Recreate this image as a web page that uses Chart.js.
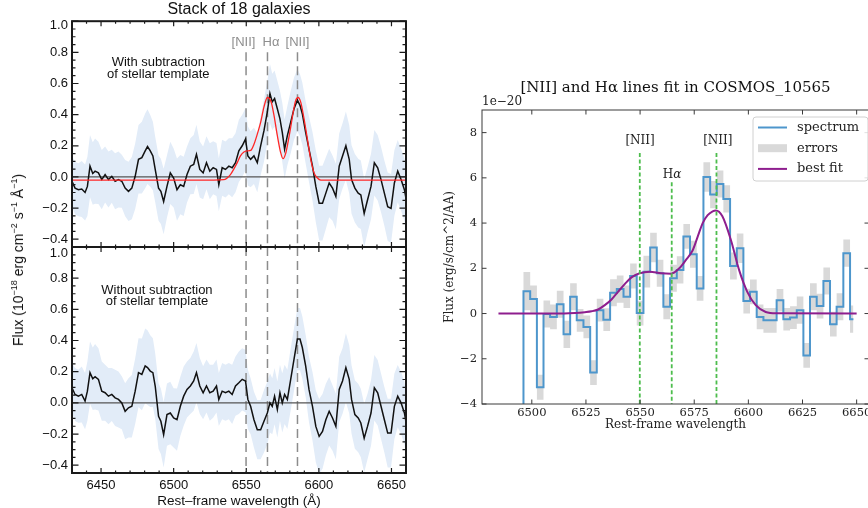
<!DOCTYPE html>
<html lang="en">
<head>
<meta charset="UTF-8">
<title>Stack of 18 galaxies and COSMOS_10565 line fit</title>
<style>
html, body { margin: 0; padding: 0; background: #fff; }
body { width: 868px; height: 508px; position: relative; overflow: hidden; }
canvas { position: absolute; }
#topLeft { left: 0; top: 0; }
#botLeft { left: 0; top: 247px; }
#right { left: 436px; top: 70px; }
#ylab {
  position: absolute; left: 18px; top: 260px;
  transform: translate(-50%, -50%) rotate(-90deg);
  white-space: nowrap; color: #111;
  font: 14px "Liberation Sans", Arial, sans-serif;
}
#ylab sup { font-size: 9px; line-height: 0; }
</style>
</head>
<body>
<canvas id="topLeft" width="420" height="247"></canvas>
<canvas id="botLeft" width="420" height="261"></canvas>
<canvas id="right" width="440" height="365"></canvas>
<div id="ylab">Flux (10<sup>&minus;18</sup> erg cm<sup>&minus;2</sup> s<sup>&minus;1</sup> &Aring;<sup>&minus;1</sup>)</div>

<script src="https://cdn.jsdelivr.net/npm/chart.js@4.4.0/dist/chart.umd.min.js"></script>
<script>
// ---------- left: stack of 18 galaxies ----------
var stackWave = [6430.0, 6432.1, 6434.4, 6436.7, 6439.0, 6440.6, 6442.4, 6444.3, 6445.9, 6448.2,
  6450.5, 6452.8, 6455.1, 6457.4, 6459.7, 6462.0, 6464.3, 6466.6, 6468.9, 6471.2,
  6473.5, 6475.8, 6478.1, 6480.4, 6482.0, 6483.9, 6485.7, 6487.3, 6489.6, 6491.2,
  6493.1, 6495.4, 6497.7, 6500.0, 6502.3, 6504.6, 6506.9, 6509.2, 6511.5, 6513.8,
  6515.7, 6518.0, 6520.3, 6522.6, 6524.9, 6527.2, 6529.5, 6531.1, 6533.4, 6535.7,
  6538.0, 6540.3, 6542.6, 6544.9, 6547.2, 6549.5, 6551.1, 6553.0, 6555.3, 6557.6,
  6559.9, 6562.2, 6564.5, 6566.3, 6567.9, 6569.5, 6571.4, 6573.2, 6574.8, 6576.4,
  6578.3, 6580.6, 6582.9, 6585.2, 6587.0, 6588.6, 6590.9, 6593.2, 6595.6, 6597.9,
  6600.2, 6602.5, 6604.8, 6607.1, 6609.4, 6611.7, 6614.0, 6616.3, 6618.6, 6620.9,
  6622.5, 6624.8, 6627.1, 6628.9, 6631.2, 6633.5, 6635.9, 6638.2, 6640.5, 6642.8,
  6645.1, 6647.4, 6649.7, 6652.0, 6654.3, 6656.6, 6658.9, 6660.7];

// with subtraction of stellar template
var fluxSub = [-0.028, -0.072, -0.082, -0.078, -0.100, -0.061, 0.069, 0.022, 0.037, 0.026,
  -0.017, 0.015, -0.017, 0.004, -0.028, -0.017, -0.028, -0.072, -0.093, -0.072,
  0.004, 0.113, 0.124, 0.167, 0.195, 0.167, 0.135, 0.048, -0.072, -0.093,
  -0.158, -0.061, 0.026, -0.007, -0.082, -0.050, -0.061, 0.015, 0.069, 0.080,
  0.145, 0.048, 0.026, 0.091, 0.037, 0.059, 0.048, -0.050, 0.059, 0.048,
  0.069, 0.059, 0.091, 0.167, 0.200, 0.243, 0.135, 0.113, 0.135, 0.091,
  0.200, 0.297, 0.417, 0.536, 0.482, 0.503, 0.438, 0.373, 0.286, 0.178,
  0.265, 0.352, 0.438, 0.493, 0.460, 0.406, 0.286, 0.178, 0.069, -0.061,
  -0.169, -0.169, -0.104, -0.039, -0.072, -0.126, 0.069, 0.135, 0.200, 0.113,
  -0.017, -0.072, -0.104, -0.115, -0.234, -0.148, -0.061, 0.091, 0.059, -0.017,
  -0.104, -0.191, -0.202, -0.039, 0.037, -0.017, -0.082, -0.174];

// without subtraction of stellar template
var fluxNoSub = [0.097, 0.054, 0.043, 0.054, 0.011, 0.075, 0.194, 0.155, 0.168, 0.151,
  0.075, 0.065, 0.043, 0.054, 0.032, 0.022, 0.000, -0.054, -0.032, -0.022,
  0.075, 0.194, 0.183, 0.237, 0.226, 0.204, 0.194, 0.108, -0.086, -0.118,
  -0.204, -0.075, -0.065, -0.097, -0.108, -0.022, 0.043, 0.086, 0.108, 0.140,
  0.194, 0.108, 0.065, 0.108, 0.065, 0.075, 0.108, 0.022, 0.075, 0.065,
  0.075, 0.054, 0.108, 0.129, 0.151, 0.140, 0.022, -0.022, -0.108, -0.172,
  -0.172, -0.118, -0.065, 0.000, -0.022, 0.043, -0.043, 0.065, 0.000, 0.054,
  0.022, 0.151, 0.280, 0.409, 0.409, 0.355, 0.237, 0.086, -0.022, -0.151,
  -0.215, -0.183, -0.108, -0.054, -0.097, -0.151, 0.086, 0.140, 0.226, 0.151,
  0.022, -0.075, -0.097, -0.129, -0.226, -0.151, -0.065, 0.097, 0.065, -0.022,
  -0.108, -0.194, -0.194, -0.022, 0.043, 0.000, -0.065, -0.161];

var stackErr = [0.16, 0.17, 0.17, 0.18, 0.18, 0.19, 0.20, 0.20, 0.21, 0.20,
  0.19, 0.18, 0.18, 0.17, 0.18, 0.18, 0.17, 0.18, 0.19, 0.20,
  0.21, 0.22, 0.23, 0.24, 0.24, 0.23, 0.22, 0.21, 0.21, 0.21,
  0.21, 0.20, 0.20, 0.19, 0.20, 0.19, 0.19, 0.18, 0.18, 0.19,
  0.19, 0.18, 0.17, 0.17, 0.18, 0.17, 0.17, 0.17, 0.18, 0.18,
  0.18, 0.19, 0.19, 0.20, 0.20, 0.20, 0.19, 0.18, 0.18, 0.19,
  0.19, 0.20, 0.20, 0.19, 0.18, 0.18, 0.18, 0.18, 0.19, 0.19,
  0.19, 0.20, 0.20, 0.20, 0.20, 0.20, 0.20, 0.21, 0.22, 0.23,
  0.24, 0.24, 0.23, 0.22, 0.21, 0.21, 0.21, 0.21, 0.22, 0.22,
  0.22, 0.22, 0.22, 0.22, 0.22, 0.21, 0.21, 0.21, 0.21, 0.21,
  0.21, 0.22, 0.22, 0.21, 0.20, 0.20, 0.20, 0.20];

// red model (top panel)
var stackFitWave = [6430.0, 6527.6, 6534.5, 6539.1, 6541.4, 6543.7, 6546.0, 6548.4, 6550.7, 6553.0,
  6555.3, 6557.6, 6559.9, 6562.2, 6564.5, 6567.2, 6569.1, 6571.4, 6573.7, 6575.3,
  6577.1, 6578.7, 6580.6, 6582.4, 6584.0, 6585.7, 6587.5, 6589.8, 6592.1, 6594.4,
  6596.7, 6599.0, 6601.3, 6660.7];
var stackFitFlux = [-0.02, -0.02, -0.018, 0.015, 0.05, 0.09, 0.135, 0.16, 0.167, 0.17,
  0.21, 0.275, 0.35, 0.45, 0.51, 0.48, 0.395, 0.265, 0.156, 0.117,
  0.15, 0.22, 0.32, 0.42, 0.49, 0.51, 0.48, 0.373, 0.243, 0.113,
  0.026, -0.007, -0.02, -0.02];

// ---------- right: COSMOS_10565 ----------
var specWave = [6494.6, 6497.7, 6500.8, 6503.9, 6506.9, 6510.0, 6513.1, 6516.2, 6519.2, 6522.3,
  6525.4, 6528.5, 6531.5, 6534.6, 6537.7, 6540.8, 6543.9, 6546.9, 6550.0, 6553.1,
  6556.2, 6559.2, 6562.3, 6565.4, 6568.5, 6571.5, 6574.6, 6577.7, 6580.8, 6583.9,
  6586.9, 6590.0, 6593.1, 6596.2, 6599.2, 6602.3, 6605.4, 6608.5, 6611.5, 6614.6,
  6617.7, 6620.8, 6623.9, 6626.9, 6630.0, 6633.1, 6636.2, 6639.2, 6642.3, 6645.4,
  6648.5];
var specFlux = [-8.0, 0.99, 0.64, -3.26, -0.02, -0.15, 0.41, -0.92, 0.74, -0.30,
  -0.59, -2.61, 0.15, -0.27, 0.92, 1.08, 0.74, 1.66, 0.02, 1.85,
  2.92, 1.78, 0.30, 1.56, 1.93, 3.41, 2.62, 1.11, 6.04, 5.26,
  5.73, 5.07, 2.10, 2.89, 0.55, 0.96, -0.15, -0.30, -0.30, 0.59,
  -0.25, -0.18, 0.15, -1.85, 0.74, 0.33, 1.44, -0.47, 0.30, 2.67,
  -0.25];
var specErr = [0.50, 0.85, 0.60, 0.55, 0.60, 0.55, 0.60, 0.60, 0.60, 0.50,
  0.50, 0.55, 0.50, 0.50, 0.60, 0.60, 0.50, 0.55, 0.55, 0.70,
  0.65, 0.60, 0.55, 0.60, 0.60, 0.55, 0.60, 0.55, 0.65, 0.60,
  0.60, 0.60, 0.60, 0.65, 0.55, 0.55, 0.55, 0.55, 0.55, 0.50,
  0.50, 0.50, 0.60, 0.55, 0.60, 0.55, 0.60, 0.55, 0.60, 0.60,
  0.60];
var fitWave = [6484.6, 6515.0, 6520.0, 6524.5, 6527.6, 6530.6, 6533.7, 6536.8, 6539.8, 6542.9,
  6545.9, 6549.8, 6554.4, 6559.7, 6564.3, 6568.1, 6571.2, 6574.3, 6576.6, 6578.9,
  6581.2, 6583.5, 6585.0, 6588.0, 6591.9, 6595.7, 6599.5, 6603.4, 6608.0, 6613.0,
  6650.0];
var fitFlux = [0, 0, 0.02, 0.06, 0.10, 0.18, 0.37, 0.62, 0.96, 1.30,
  1.59, 1.78, 1.85, 1.78, 1.76, 2.00, 2.37, 2.80, 3.40, 4.00,
  4.35, 4.52, 4.56, 4.30, 3.26, 1.93, 0.96, 0.37, 0.07, 0.01,
  0];

// emission lines
var lineWave = [6549.86, 6564.61, 6585.27];
var lineTopLeft = [0.8, 0.8, 0.8];
var lineTopRight = [7.1, 5.8, 7.1];

// axes
var xTicksLeft = [6450, 6500, 6550, 6600, 6650];
var yTicksLeft = [-0.4, -0.2, 0.0, 0.2, 0.4, 0.6, 0.8, 1.0];
var xTicksRight = [6500, 6525, 6550, 6575, 6600, 6625, 6650];
var yTicksRight = [-4, -2, 0, 2, 4, 6, 8];
var legendLabels = ['spectrum', 'errors', 'best fit'];

var SANS = '"Liberation Sans", Arial, sans-serif';
var SERIF = '"DejaVu Serif", serif';

function range(a, b, s) {
  var out = [];
  for (var v = a; v <= b + 1e-9; v += s) out.push(+v.toFixed(3));
  return out;
}
function pts(xs, ys) {
  return xs.map(function(x, i) { return {x: x, y: ys[i]}; });
}
function fmt(v, d) {
  return (v < -1e-9 ? '\u2212' : '') + Math.abs(v).toFixed(d);
}

function drawTexts(chart, texts) {
  var ctx = chart.ctx, xs = chart.scales.x, ys = chart.scales.y;
  texts.forEach(function(t) {
    var px = xs.getPixelForValue(t.x), py = ys.getPixelForValue(t.y);
    var parts = t.parts || [[t.text, t.font]];
    ctx.fillStyle = t.color;
    ctx.textBaseline = 'middle';
    ctx.textAlign = 'left';
    var w = 0;
    parts.forEach(function(p) { ctx.font = p[1]; w += ctx.measureText(p[0]).width; });
    var x0 = t.align === 'left' ? px : (t.align === 'right' ? px - w : px - w / 2);
    parts.forEach(function(p) {
      ctx.font = p[1];
      ctx.fillText(p[0], x0, py);
      x0 += ctx.measureText(p[0]).width;
    });
  });
}

function drawLegend(chart, lg) {
  var ctx = chart.ctx, a = chart.chartArea;
  var w = 115, h = 64, x0 = a.right - lg.inset - w, y0 = a.top + 7, r = 3;
  ctx.beginPath();
  ctx.moveTo(x0 + r, y0);
  ctx.arcTo(x0 + w, y0, x0 + w, y0 + h, r);
  ctx.arcTo(x0 + w, y0 + h, x0, y0 + h, r);
  ctx.arcTo(x0, y0 + h, x0, y0, r);
  ctx.arcTo(x0, y0, x0 + w, y0, r);
  ctx.closePath();
  ctx.fillStyle = 'rgba(255,255,255,0.85)';
  ctx.fill();
  ctx.strokeStyle = '#d0d0d0';
  ctx.lineWidth = 1;
  ctx.stroke();
  lg.items.forEach(function(it, i) {
    var cy = y0 + 10.5 + i * 20.7;
    if (it.kind === 'line') {
      ctx.strokeStyle = it.color;
      ctx.lineWidth = 2;
      ctx.beginPath();
      ctx.moveTo(x0 + 5, cy);
      ctx.lineTo(x0 + 34, cy);
      ctx.stroke();
    } else {
      ctx.fillStyle = it.color;
      ctx.fillRect(x0 + 5, cy - 4, 29, 8);
    }
    ctx.fillStyle = '#222';
    ctx.font = '13px ' + SERIF;
    ctx.textAlign = 'left';
    ctx.textBaseline = 'middle';
    ctx.fillText(it.label, x0 + 44, cy);
  });
}

// frame, inward ticks, labels and legend
function framePlugin(cfg) {
  return {
    id: 'frame',
    afterDraw: function(chart) {
      var ctx = chart.ctx, a = chart.chartArea;
      var xs = chart.scales.x, ys = chart.scales.y;
      ctx.save();
      ctx.strokeStyle = cfg.color;
      ctx.lineWidth = cfg.tickWidth;
      ctx.beginPath();
      function xt(vals, len) {
        vals.forEach(function(v) {
          var p = xs.getPixelForValue(v);
          ctx.moveTo(p, a.bottom); ctx.lineTo(p, a.bottom - len);
          ctx.moveTo(p, a.top); ctx.lineTo(p, a.top + len);
        });
      }
      function yt(vals, len) {
        vals.forEach(function(v) {
          var p = ys.getPixelForValue(v);
          ctx.moveTo(a.left, p); ctx.lineTo(a.left + len, p);
          ctx.moveTo(a.right, p); ctx.lineTo(a.right - len, p);
        });
      }
      xt(cfg.xMinor || [], cfg.xMinorLen || 0);
      xt(cfg.xMajor, cfg.xLen);
      yt(cfg.yMinor || [], cfg.yMinorLen || 0);
      yt(cfg.yMajor, cfg.yLen);
      ctx.stroke();
      ctx.lineWidth = cfg.width;
      ctx.strokeRect(a.left, a.top, a.right - a.left, a.bottom - a.top);
      drawTexts(chart, cfg.texts || []);
      if (cfg.legend) drawLegend(chart, cfg.legend);
      ctx.restore();
    }
  };
}

var BAND = 'rgb(226,236,248)';
var noGrid = {display: false, drawTicks: false};

function leftChart(id, flux, withFit, lineTops, texts, showX) {
  var datasets = [
    {data: pts(stackWave, flux.map(function(v, i) { return v + stackErr[i]; })),
     fill: '+1', backgroundColor: BAND, borderWidth: 0, order: 6},
    {data: pts(stackWave, flux.map(function(v, i) { return v - stackErr[i]; })),
     borderWidth: 0, order: 6}
  ];
  lineWave.forEach(function(w, i) {
    datasets.push({data: [{x: w, y: lineTops[i]}, {x: w, y: -0.45}],
      borderColor: '#8c8c8c', borderWidth: 1.5, borderDash: [9, 5], order: 5});
  });
  datasets.push({data: [{x: 6430, y: 0}, {x: 6660, y: 0}], borderColor: '#555', borderWidth: 1.2, order: 4});
  datasets.push({data: pts(stackWave, flux), borderColor: '#111', borderWidth: 1.5, order: 3});
  if (withFit) {
    datasets.push({data: pts(stackFitWave, stackFitFlux), borderColor: '#ff2626', borderWidth: 1.3,
      cubicInterpolationMode: 'monotone', order: 2});
  }
  var title = id === 'topLeft'
    ? {display: true, text: 'Stack of 18 galaxies', fullSize: false, color: '#111',
       font: {family: SANS, size: 16, weight: 'normal', lineHeight: 1.2}, padding: {top: 0, bottom: 2}}
    : {display: false};
  return new Chart(document.getElementById(id), {
    type: 'line',
    data: {datasets: datasets},
    options: {
      responsive: false, animation: false, events: [], devicePixelRatio: 1,
      layout: {padding: {left: 0, right: 14, top: 0, bottom: 0}},
      elements: {point: {radius: 0}, line: {tension: 0}},
      plugins: {legend: {display: false}, tooltip: {enabled: false}, title: title},
      scales: {
        x: {
          type: 'linear', min: 6430, max: 6660, display: showX,
          grid: noGrid, border: {display: false},
          afterBuildTicks: function(s) { s.ticks = xTicksLeft.map(function(v) { return {value: v}; }); },
          afterFit: function(s) { s.height = showX ? 35 : 0; s.paddingLeft = 0; s.paddingRight = 0; },
          ticks: {autoSkip: false, maxRotation: 0, padding: 5, color: '#111',
            font: {family: SANS, size: 13}, callback: function(v) { return String(v); }},
          title: {display: true, text: 'Rest\u2013frame wavelength (\u00c5)', color: '#111',
            font: {family: SANS, size: 13.5, lineHeight: 1}, padding: {top: 0, bottom: 0}}
        },
        y: {
          type: 'linear', min: -0.45, max: 1.0,
          grid: noGrid, border: {display: false},
          afterBuildTicks: function(s) {
            s.ticks = yTicksLeft.slice(0, -1).map(function(v) { return {value: v}; });
          },
          afterFit: function(s) { s.width = 72; s.paddingTop = 0; s.paddingBottom = 0; },
          ticks: {autoSkip: false, padding: 4, color: '#111', font: {family: SANS, size: 13},
            callback: function(v) { return fmt(v, 1); }}
        }
      }
    },
    plugins: [framePlugin({
      color: '#1a1a1a', width: 2, tickWidth: 1.2,
      xMajor: xTicksLeft, xLen: 5, xMinor: range(6430, 6660, 10), xMinorLen: 2.5,
      yMajor: yTicksLeft, yLen: 6.5, yMinor: range(-0.45, 1.0, 0.05), yMinorLen: 3.5,
      texts: texts
    })]
  });
}

var grey = '#8e8e8e';
var annFont = '13px ' + SANS;

leftChart('topLeft', fluxSub, true, lineTopLeft, [
  {x: 6427.2, y: 0.976, text: fmt(yTicksLeft[7], 1), font: annFont, color: '#111', align: 'right'},
  {x: 6489.4, y: 0.733, text: 'With subtraction', font: annFont, color: '#111'},
  {x: 6489.4, y: 0.656, text: 'of stellar template', font: annFont, color: '#111'},
  {x: 6548.1, y: 0.863, text: '[NII]', font: annFont, color: grey},
  {x: 6567.0, y: 0.863, text: 'H\u03b1', font: annFont, color: grey},
  {x: 6585.3, y: 0.863, text: '[NII]', font: annFont, color: grey}
], false);

leftChart('botLeft', fluxNoSub, false, [1.0, 1.0, 1.0], [
  {x: 6427.2, y: 0.96, text: fmt(yTicksLeft[7], 1), font: annFont, color: '#111', align: 'right'},
  {x: 6488.5, y: 0.724, text: 'Without subtraction', font: annFont, color: '#111'},
  {x: 6488.5, y: 0.654, text: 'of stellar template', font: annFont, color: '#111'}
], true);

// ---------- right chart ----------
var BLUE = '#4d96cc', PURPLE = '#8e1e8e', ERRGREY = '#d9d9d9', GREEN = '#4dbd4d';

var rightSets = [
  {data: pts(specWave, specFlux.map(function(v, i) { return v + specErr[i]; })), stepped: 'middle',
   fill: '+1', backgroundColor: ERRGREY, borderWidth: 0, order: 5},
  {data: pts(specWave, specFlux.map(function(v, i) { return v - specErr[i]; })), stepped: 'middle',
   borderWidth: 0, order: 5},
  {data: pts(specWave, specFlux), stepped: 'middle', borderColor: BLUE, borderWidth: 2, order: 4},
  {data: pts(fitWave, fitFlux), borderColor: PURPLE, borderWidth: 2, cubicInterpolationMode: 'monotone', order: 3}
];
lineWave.forEach(function(w, i) {
  rightSets.push({data: [{x: w, y: lineTopRight[i]}, {x: w, y: -4}],
    borderColor: GREEN, borderWidth: 1.8, borderDash: [4, 2.5], order: 1});
});

var serif12 = '12px ' + SERIF;
new Chart(document.getElementById('right'), {
  type: 'line',
  data: {datasets: rightSets},
  options: {
    responsive: false, animation: false, events: [], devicePixelRatio: 1,
    layout: {padding: {left: 0, right: 7, top: 0, bottom: 0}},
    elements: {point: {radius: 0}, line: {tension: 0}},
    plugins: {
      legend: {display: false}, tooltip: {enabled: false},
      title: {display: true, text: '[NII] and H\u03b1 lines fit in COSMOS_10565', fullSize: false,
        color: '#111', font: {family: SERIF, size: 15, weight: 'normal', lineHeight: 1.2},
        padding: {top: 9, bottom: 13}}
    },
    scales: {
      x: {
        type: 'linear', min: 6477, max: 6655.7,
        grid: noGrid, border: {display: false},
        afterBuildTicks: function(s) { s.ticks = xTicksRight.map(function(v) { return {value: v}; }); },
        afterFit: function(s) { s.height = 31; s.paddingLeft = 0; s.paddingRight = 0; },
        ticks: {autoSkip: false, maxRotation: 0, padding: 2, color: '#222',
          font: {family: SERIF, size: 11.5}, callback: function(v) { return String(v); }},
        title: {display: true, text: 'Rest-frame wavelength', color: '#222',
          font: {family: SERIF, size: 12, lineHeight: 1.2}, padding: {top: 0, bottom: 3}}
      },
      y: {
        type: 'linear', min: -4, max: 9,
        grid: noGrid, border: {display: false},
        afterBuildTicks: function(s) { s.ticks = yTicksRight.map(function(v) { return {value: v}; }); },
        afterFit: function(s) { s.width = 46; s.paddingTop = 0; s.paddingBottom = 0; },
        ticks: {autoSkip: false, padding: 5, color: '#222', font: {family: SERIF, size: 11.5},
          callback: function(v) { return fmt(v, 0); }},
        title: {display: true, text: 'Flux (erg/s/cm^2/AA)', color: '#222',
          font: {family: SERIF, size: 12, lineHeight: 1.2}, padding: {top: 7, bottom: 0}}
      }
    }
  },
  plugins: [framePlugin({
    color: '#3a3a3a', width: 1, tickWidth: 1,
    xMajor: xTicksRight, xLen: 4.5, yMajor: yTicksRight, yLen: 4.5,
    texts: [
      {x: 6477, y: 9.35, text: '1e\u221220', font: serif12, color: '#222', align: 'left'},
      {x: 6550.0, y: 7.65, text: '[NII]', font: serif12, color: '#222'},
      {x: 6564.8, y: 6.15, parts: [['H', serif12], ['\u03b1', 'italic ' + serif12]], color: '#222'},
      {x: 6585.9, y: 7.65, text: '[NII]', font: serif12, color: '#222'}
    ],
    legend: {inset: 1, items: [
      {kind: 'line', color: BLUE, label: legendLabels[0]},
      {kind: 'patch', color: ERRGREY, label: legendLabels[1]},
      {kind: 'line', color: PURPLE, label: legendLabels[2]}
    ]}
  })]
});
</script>
</body>
</html>
